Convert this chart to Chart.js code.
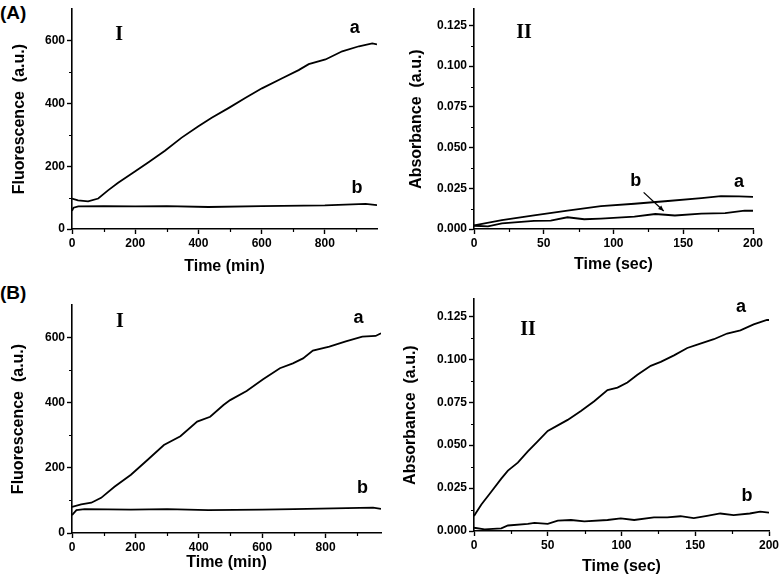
<!DOCTYPE html>
<html><head><meta charset="utf-8">
<script src="https://cdn.jsdelivr.net/npm/chart.js@4/dist/chart.umd.min.js"></script>
<style>
html,body{margin:0;padding:0;background:#fff;}
body{width:784px;height:580px;position:relative;overflow:hidden;font-family:"Liberation Sans",Arial,sans-serif;}
.pane{position:absolute;width:392px;height:290px;}
.tag{position:absolute;font:bold 19px "Liberation Sans",Arial,sans-serif;color:#000;line-height:20px;}
</style></head>
<body>
<div class="tag" style="left:0;top:3px">(A)</div>
<div class="tag" style="left:0;top:283px">(B)</div>
<div class="pane" style="left:0;top:0"><canvas id="c1" width="392" height="290"></canvas></div>
<div class="pane" style="left:392px;top:0"><canvas id="c2" width="392" height="290"></canvas></div>
<div class="pane" style="left:0;top:290px"><canvas id="c3" width="392" height="290"></canvas></div>
<div class="pane" style="left:392px;top:290px"><canvas id="c4" width="392" height="290"></canvas></div>
<script>
// ---------- DATA ----------
// Panel A-I: fluorescence vs time (min)
const aI_time_a = [0,19,51,83,114,146,199,241,294,347,400,442,495,548,601,665,717,749,802,855,908,950,965];
const aI_fluo_a = [97,91,88,97,123,147,183,212,249,291,327,354,385,417,448,480,506,525,540,566,582,591,588];
const aI_time_b = [0,5,20,100,200,300,432,600,800,929,965];
const aI_fluo_b = [58,68,72,73,72,73,70,73,75,80,76];
// Panel A-II: absorbance vs time (sec)
const aII_time_a = [0,20,43,67,91,115,139,163,177,190,200];
const aII_abs_a  = [0.0022,0.0055,0.0084,0.0113,0.0140,0.0155,0.0172,0.0190,0.0202,0.0200,0.0197];
const aII_time_b = [0,10,20,43,55,67,79,91,115,130,144,163,180,194,200];
const aII_abs_b  = [0.0020,0.0016,0.0035,0.0050,0.0052,0.0072,0.0060,0.0064,0.0076,0.0092,0.0083,0.0094,0.0098,0.0113,0.0112];
// Panel B-I
const bI_time_a = [0,29,61,92,134,186,238,290,342,395,436,478,499,551,603,656,697,729,760,812,864,916,958,975];
const bI_fluo_a = [80,88,93,108,142,179,224,270,297,342,357,393,408,436,472,506,521,536,560,572,588,603,605,613];
const bI_time_b = [0,14,40,186,300,430,600,700,950,975];
const bI_fluo_b = [55,70,73,72,73,70,72,73,78,74];
// Panel B-II
const bII_time_a = [0,5,11.7,18.5,23,29.7,36.5,43,50,56.8,63.5,72.5,81.5,90.5,97.3,104,110.8,119.8,126.6,135.6,144.6,151.4,162.6,171.6,180.6,189.6,198.6,200];
const bII_abs_a  = [0.0088,0.0154,0.0229,0.0305,0.0352,0.0398,0.0464,0.0521,0.0583,0.0615,0.0647,0.0699,0.0756,0.0821,0.0835,0.0865,0.0910,0.0962,0.0985,0.1023,0.1066,0.1085,0.1117,0.1150,0.1169,0.1203,0.1229,0.1229];
const bII_time_b = [0,7.2,18.5,23,36.5,41,50,56.8,65.8,74.8,90.5,99.5,108.6,122,131,140,149,158,167,176,187,194,200];
const bII_abs_b  = [0.0019,0.0009,0.0015,0.0032,0.0041,0.0047,0.0041,0.0060,0.0064,0.0056,0.0064,0.0073,0.0064,0.0079,0.0079,0.0086,0.0075,0.0088,0.0102,0.0092,0.0102,0.0113,0.0107];

// tick values
const ticksMin  = [0,200,400,600,800];
const ticksFluo = [0,200,400,600];
const ticksSec  = [0,50,100,150,200];
const ticksAbs  = [0,0.025,0.05,0.075,0.1,0.125];

// axis texts
const titleFluo = 'Fluorescence  (a.u.)';
const titleAbs = 'Absorbance  (a.u.)';
const titleMin = 'Time (min)';
const titleSec = 'Time (sec)';

// ---------- helpers ----------
const SANS = '"Liberation Sans", Arial, sans-serif';
const SERIF = '"Liberation Serif", "Times New Roman", serif';

function pts(xs, ys){ return xs.map((x,i)=>({x:x, y:ys[i]})); }

const minorTicks = {
  id:'minorTicks',
  afterDraw(chart, args, o){
    if(!o || !o.xStep) return;
    const ctx = chart.ctx, xs = chart.scales.x, ys = chart.scales.y, ca = chart.chartArea;
    ctx.save(); ctx.strokeStyle='#000'; ctx.lineWidth=1.2; ctx.beginPath();
    for(let k=1; k*o.xStep < xs.max - 1e-9; k+=2){
      const p = Math.round(xs.getPixelForValue(k*o.xStep))+0.5;
      ctx.moveTo(p, ca.bottom); ctx.lineTo(p, ca.bottom+3);
    }
    for(let k=1; k*o.yStep < ys.max - 1e-9; k+=2){
      const p = Math.round(ys.getPixelForValue(k*o.yStep))+0.5;
      ctx.moveTo(ca.left, p); ctx.lineTo(ca.left-3, p);
    }
    ctx.stroke(); ctx.restore();
  }
};

const notes = {
  id:'notes',
  afterDraw(chart, args, o){
    if(!o || !o.items) return;
    const ctx = chart.ctx, xs = chart.scales.x, ys = chart.scales.y;
    ctx.save(); ctx.fillStyle='#000'; ctx.textAlign='center'; ctx.textBaseline='middle';
    o.items.forEach(it=>{
      ctx.font = it.font;
      ctx.fillText(it.text, xs.getPixelForValue(it.x), ys.getPixelForValue(it.y));
    });
    (o.arrows||[]).forEach(a=>{
      const x1=xs.getPixelForValue(a.x1), y1=ys.getPixelForValue(a.y1);
      const x2=xs.getPixelForValue(a.x2), y2=ys.getPixelForValue(a.y2);
      ctx.strokeStyle='#000'; ctx.lineWidth=1.3;
      ctx.beginPath(); ctx.moveTo(x1,y1); ctx.lineTo(x2,y2); ctx.stroke();
      const ang=Math.atan2(y2-y1,x2-x1), L=6;
      ctx.beginPath(); ctx.moveTo(x2,y2);
      ctx.lineTo(x2-L*Math.cos(ang-0.4), y2-L*Math.sin(ang-0.4));
      ctx.lineTo(x2-L*Math.cos(ang+0.4), y2-L*Math.sin(ang+0.4));
      ctx.closePath(); ctx.fill();
    });
    ctx.restore();
  }
};

function makeChart(id, cfg){
  const lineDs = (data)=>({data:data, borderColor:'#000', borderWidth:1.8, pointRadius:0, tension:0, fill:false});
  new Chart(document.getElementById(id), {
    type:'line',
    data:{datasets:[lineDs(pts(cfg.xa,cfg.ya)), lineDs(pts(cfg.xb,cfg.yb))]},
    plugins:[minorTicks, notes],
    options:{
      responsive:false, animation:false, events:[],
      layout:{padding:{left:0, top:cfg.padTop, right:cfg.padRight, bottom:0}},
      plugins:{legend:{display:false}, tooltip:{enabled:false},
        minorTicks:{xStep:cfg.xStep/2, yStep:cfg.yStep/2},
        notes:{items:cfg.items, arrows:cfg.arrows||[]}},
      scales:{
        x:{type:'linear', min:0, max:cfg.xMax,
          afterBuildTicks:(s)=>{ s.ticks = cfg.xTicks.map(v=>({value:v})); },
          afterFit:(s)=>{s.height=cfg.xH;},
          border:{display:true, color:'#000', width:1.6},
          grid:{display:true, drawOnChartArea:false, drawTicks:true, tickLength:5, tickWidth:1.4, tickColor:'#000'},
          ticks:{autoSkip:false, color:'#000', padding:2, maxRotation:0,
            font:{family:SANS, size:12, weight:'bold'},
            callback:(v)=>fmtInt(v)},
          title:{display:true, text:cfg.xTitle, color:'#000', padding:{top:0,bottom:cfg.xTitlePad},
            font:{family:SANS, size:16, weight:'bold'}}
        },
        y:{type:'linear', min:0, max:cfg.yMax,
          afterBuildTicks:(s)=>{ s.ticks = cfg.yTicks.map(v=>({value:v})); },
          afterFit:(s)=>{s.width=cfg.yW;},
          border:{display:true, color:'#000', width:1.6},
          grid:{display:true, drawOnChartArea:false, drawTicks:true, tickLength:5, tickWidth:1.4, tickColor:'#000'},
          ticks:{autoSkip:false, color:'#000', padding:2,
            font:{family:SANS, size:12, weight:'bold'},
            callback:(v)=>cfg.yFmt(v)},
          title:{display:true, text:cfg.yTitle, color:'#000', padding:{top:cfg.yTitlePad,bottom:0},
            font:{family:SANS, size:16, weight:'bold'}}
        }
      }
    }
  });
}

const fmtInt = v=>String(Math.round(v));
const fmt3 = v=>v.toFixed(3);
const fRoman = 'bold 20px '+SERIF;
const fLetter = 'bold 18px '+SANS;

makeChart('c1', {xa:aI_time_a, ya:aI_fluo_a, xb:aI_time_b, yb:aI_fluo_b,
  xMax:965, yMax:700, xStep:200, yStep:200, xTicks:ticksMin, yTicks:ticksFluo, yFmt:fmtInt,
  padTop:5, padRight:15, xH:61, yW:72, xTitlePad:13.7, yTitlePad:10.4,
  xTitle:titleMin, yTitle:titleFluo,
  items:[{text:'I',x:149,y:617,font:fRoman},{text:'a',x:895,y:639,font:fLetter},{text:'b',x:902,y:130,font:fLetter}]});

makeChart('c2', {xa:aII_time_a, ya:aII_abs_a, xb:aII_time_b, yb:aII_abs_b,
  xMax:200, yMax:0.135, xStep:50, yStep:0.025, xTicks:ticksSec, yTicks:ticksAbs, yFmt:fmt3,
  padTop:5, padRight:31, xH:61, yW:82, xTitlePad:15.4, yTitlePad:15.4,
  xTitle:titleSec, yTitle:titleAbs,
  items:[{text:'II',x:35.8,y:0.1205,font:fRoman},{text:'a',x:190,y:0.0289,font:fLetter},{text:'b',x:116,y:0.0295,font:fLetter}],
  arrows:[{x1:121.6,y1:0.0225,x2:136,y2:0.011}]});

makeChart('c3', {xa:bI_time_a, ya:bI_fluo_a, xb:bI_time_b, yb:bI_fluo_b,
  xMax:975, yMax:700, xStep:200, yStep:200, xTicks:ticksMin, yTicks:ticksFluo, yFmt:fmtInt,
  padTop:15, padRight:11, xH:47, yW:72, xTitlePad:7.4, yTitlePad:9.4,
  xTitle:titleMin, yTitle:titleFluo,
  items:[{text:'I',x:151,y:649,font:fRoman},{text:'a',x:904,y:660,font:fLetter},{text:'b',x:917,y:137,font:fLetter}]});

makeChart('c4', {xa:bII_time_a, ya:bII_abs_a, xb:bII_time_b, yb:bII_abs_b,
  xMax:200, yMax:0.135, xStep:50, yStep:0.025, xTicks:ticksSec, yTicks:ticksAbs, yFmt:fmt3,
  padTop:2, padRight:15, xH:49, yW:82, xTitlePad:3.7, yTitlePad:9.4,
  xTitle:titleSec, yTitle:titleAbs,
  items:[{text:'II',x:36.6,y:0.1172,font:fRoman},{text:'a',x:181,y:0.1305,font:fLetter},{text:'b',x:185,y:0.0203,font:fLetter}]});
</script>
</body></html>
